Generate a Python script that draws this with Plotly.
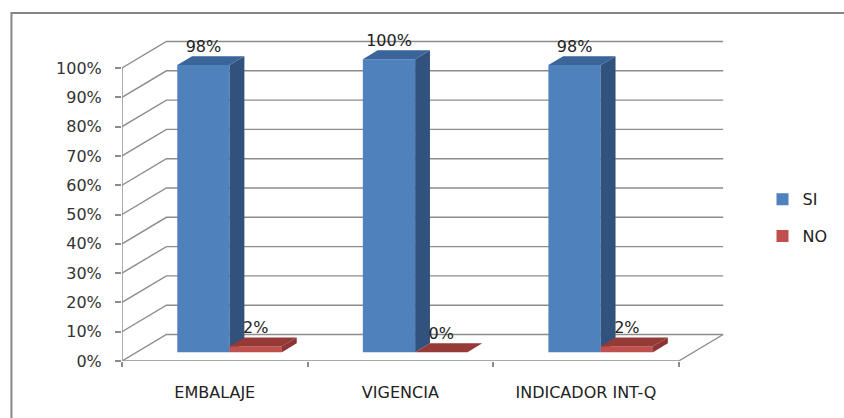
import plotly.graph_objects as go

# ---- data ----
categories = ["EMBALAJE", "VIGENCIA", "INDICADOR INT-Q"]
si_values = [98, 100, 98]
no_values = [2, 0, 2]
y_ticks = [0, 10, 20, 30, 40, 50, 60, 70, 80, 90, 100]

# ---- style / geometry ----
PX_PER_UNIT = 188.0      # px per category
PX_PER_PCT = 2.93        # px per percent
DX = 45 / PX_PER_UNIT    # depth offset (x, data units)
DY = 26.5 / PX_PER_PCT   # depth offset (y, data units)
BW = 53 / PX_PER_UNIT    # bar width
Z0, Z1 = 1 / 3, 2 / 3    # bar depth span
GRID = "#8C8C8C"
FONT = "DejaVu Sans"

fig = go.Figure()


def proj(x, y, z):
    return x + z * DX, y + z * DY


# wall / floor grid
gx, gy = [], []
x_left = -0.5
x_right = len(categories) - 0.5
for t in y_ticks:
    a = proj(x_left, t, 0)
    b = proj(x_left, t, 1)
    c = proj(x_right, t, 1)
    gx += [a[0], b[0], c[0], None]
    gy += [a[1], b[1], c[1], None]
# front vertical axis line
gx += [x_left, x_left, None]
gy += [0, 100, None]
# front floor line + right diagonal
e = proj(x_right, 0, 1)
gx += [x_left, x_right, e[0], None]
gy += [0, 0, e[1], None]
fig.add_trace(go.Scatter(x=gx, y=gy, mode="lines", line=dict(color=GRID, width=1.4),
                         hoverinfo="skip", showlegend=False))


def faces(values, offset):
    fx, fy, sx, sy, tx, ty = [], [], [], [], [], []
    for i, v in enumerate(values):
        l = i + offset
        r = l + BW
        pts = [proj(l, 0, Z0), proj(r, 0, Z0), proj(r, v, Z0), proj(l, v, Z0)]
        fx += [p[0] for p in pts] + [pts[0][0], None]
        fy += [p[1] for p in pts] + [pts[0][1], None]
        pts = [proj(r, 0, Z0), proj(r, 0, Z1), proj(r, v, Z1), proj(r, v, Z0)]
        sx += [p[0] for p in pts] + [pts[0][0], None]
        sy += [p[1] for p in pts] + [pts[0][1], None]
        pts = [proj(l, v, Z0), proj(r, v, Z0), proj(r, v, Z1), proj(l, v, Z1)]
        tx += [p[0] for p in pts] + [pts[0][0], None]
        ty += [p[1] for p in pts] + [pts[0][1], None]
    return (fx, fy), (sx, sy), (tx, ty)


series = [
    ("SI", si_values, -BW, "#4F81BD", "#30527C", "#3B649B"),
    ("NO", no_values, 0.0, "#C0504D", "#8B3532", "#953A37"),
]
for name, vals, off, c_front, c_side, c_top in series:
    front, side, top = faces(vals, off)
    for (xx, yy), col in [(front, c_front), (side, c_side), (top, c_top)]:
        fig.add_trace(go.Scatter(x=xx, y=yy, mode="none", fill="toself", fillcolor=col,
                                 hoverinfo="skip", showlegend=False))

# data labels
for name, vals, off, *_ in series:
    lx = [proj(i + off + BW / 2, v, Z0)[0] for i, v in enumerate(vals)]
    ly = [proj(0, v, Z1)[1] for v in vals]
    fig.add_trace(go.Scatter(x=lx, y=ly, mode="text", text=[f"{v}%" for v in vals],
                             textposition="top center",
                             textfont=dict(family=FONT, size=16, color="#222222"),
                             hoverinfo="skip", showlegend=False))

# legend entries
for name, vals, off, c_front, *_ in series:
    fig.add_trace(go.Scatter(x=[None], y=[None], mode="markers", name=name,
                             legendgroup=name,
                             marker=dict(symbol="square", size=12, color=c_front)))

x_max = -0.5 + 618 / PX_PER_UNIT
y_max = 331 / PX_PER_PCT

fig.update_layout(
    width=844, height=418,
    margin=dict(l=122, r=104, t=30, b=57),
    paper_bgcolor="white", plot_bgcolor="white",
    font=dict(family=FONT, size=16, color="#333333"),
    showlegend=True,
    legend=dict(x=1.05, xanchor="left", y=0.54, yanchor="top",
                tracegroupgap=13, font=dict(size=16, color="#222222"),
                bgcolor="rgba(0,0,0,0)"),
    xaxis=dict(range=[-0.5, x_max], showgrid=False, zeroline=False, showline=False,
               tickmode="array", tickvals=list(range(len(categories))), ticktext=categories,
               ticks="", ticklabelstandoff=20, tickfont=dict(size=16, color="#222222"),
               minor=dict(tickmode="array", tickvals=[-0.5, 0.5, 1.5, 2.5], ticks="outside",
                          ticklen=5, tickcolor=GRID, tickwidth=1.5, showgrid=False),
               fixedrange=True),
    yaxis=dict(range=[0, y_max], showgrid=False, zeroline=False, showline=False,
               tickmode="array", tickvals=y_ticks, ticktext=[f"{t}%" for t in y_ticks],
               ticks="outside", ticklen=6, tickcolor=GRID, tickwidth=1.5,
               ticklabelstandoff=10, tickfont=dict(size=16, color="#333333"),
               fixedrange=True),
    shapes=[dict(type="rect", xref="paper", yref="paper",
                 x0=(10 - 122) / 618, x1=1.4, y0=-0.4, y1=(361 - 13) / 331,
                 line=dict(color="#868686", width=2), fillcolor="rgba(0,0,0,0)")],
)

fig.write_html("out.html")
